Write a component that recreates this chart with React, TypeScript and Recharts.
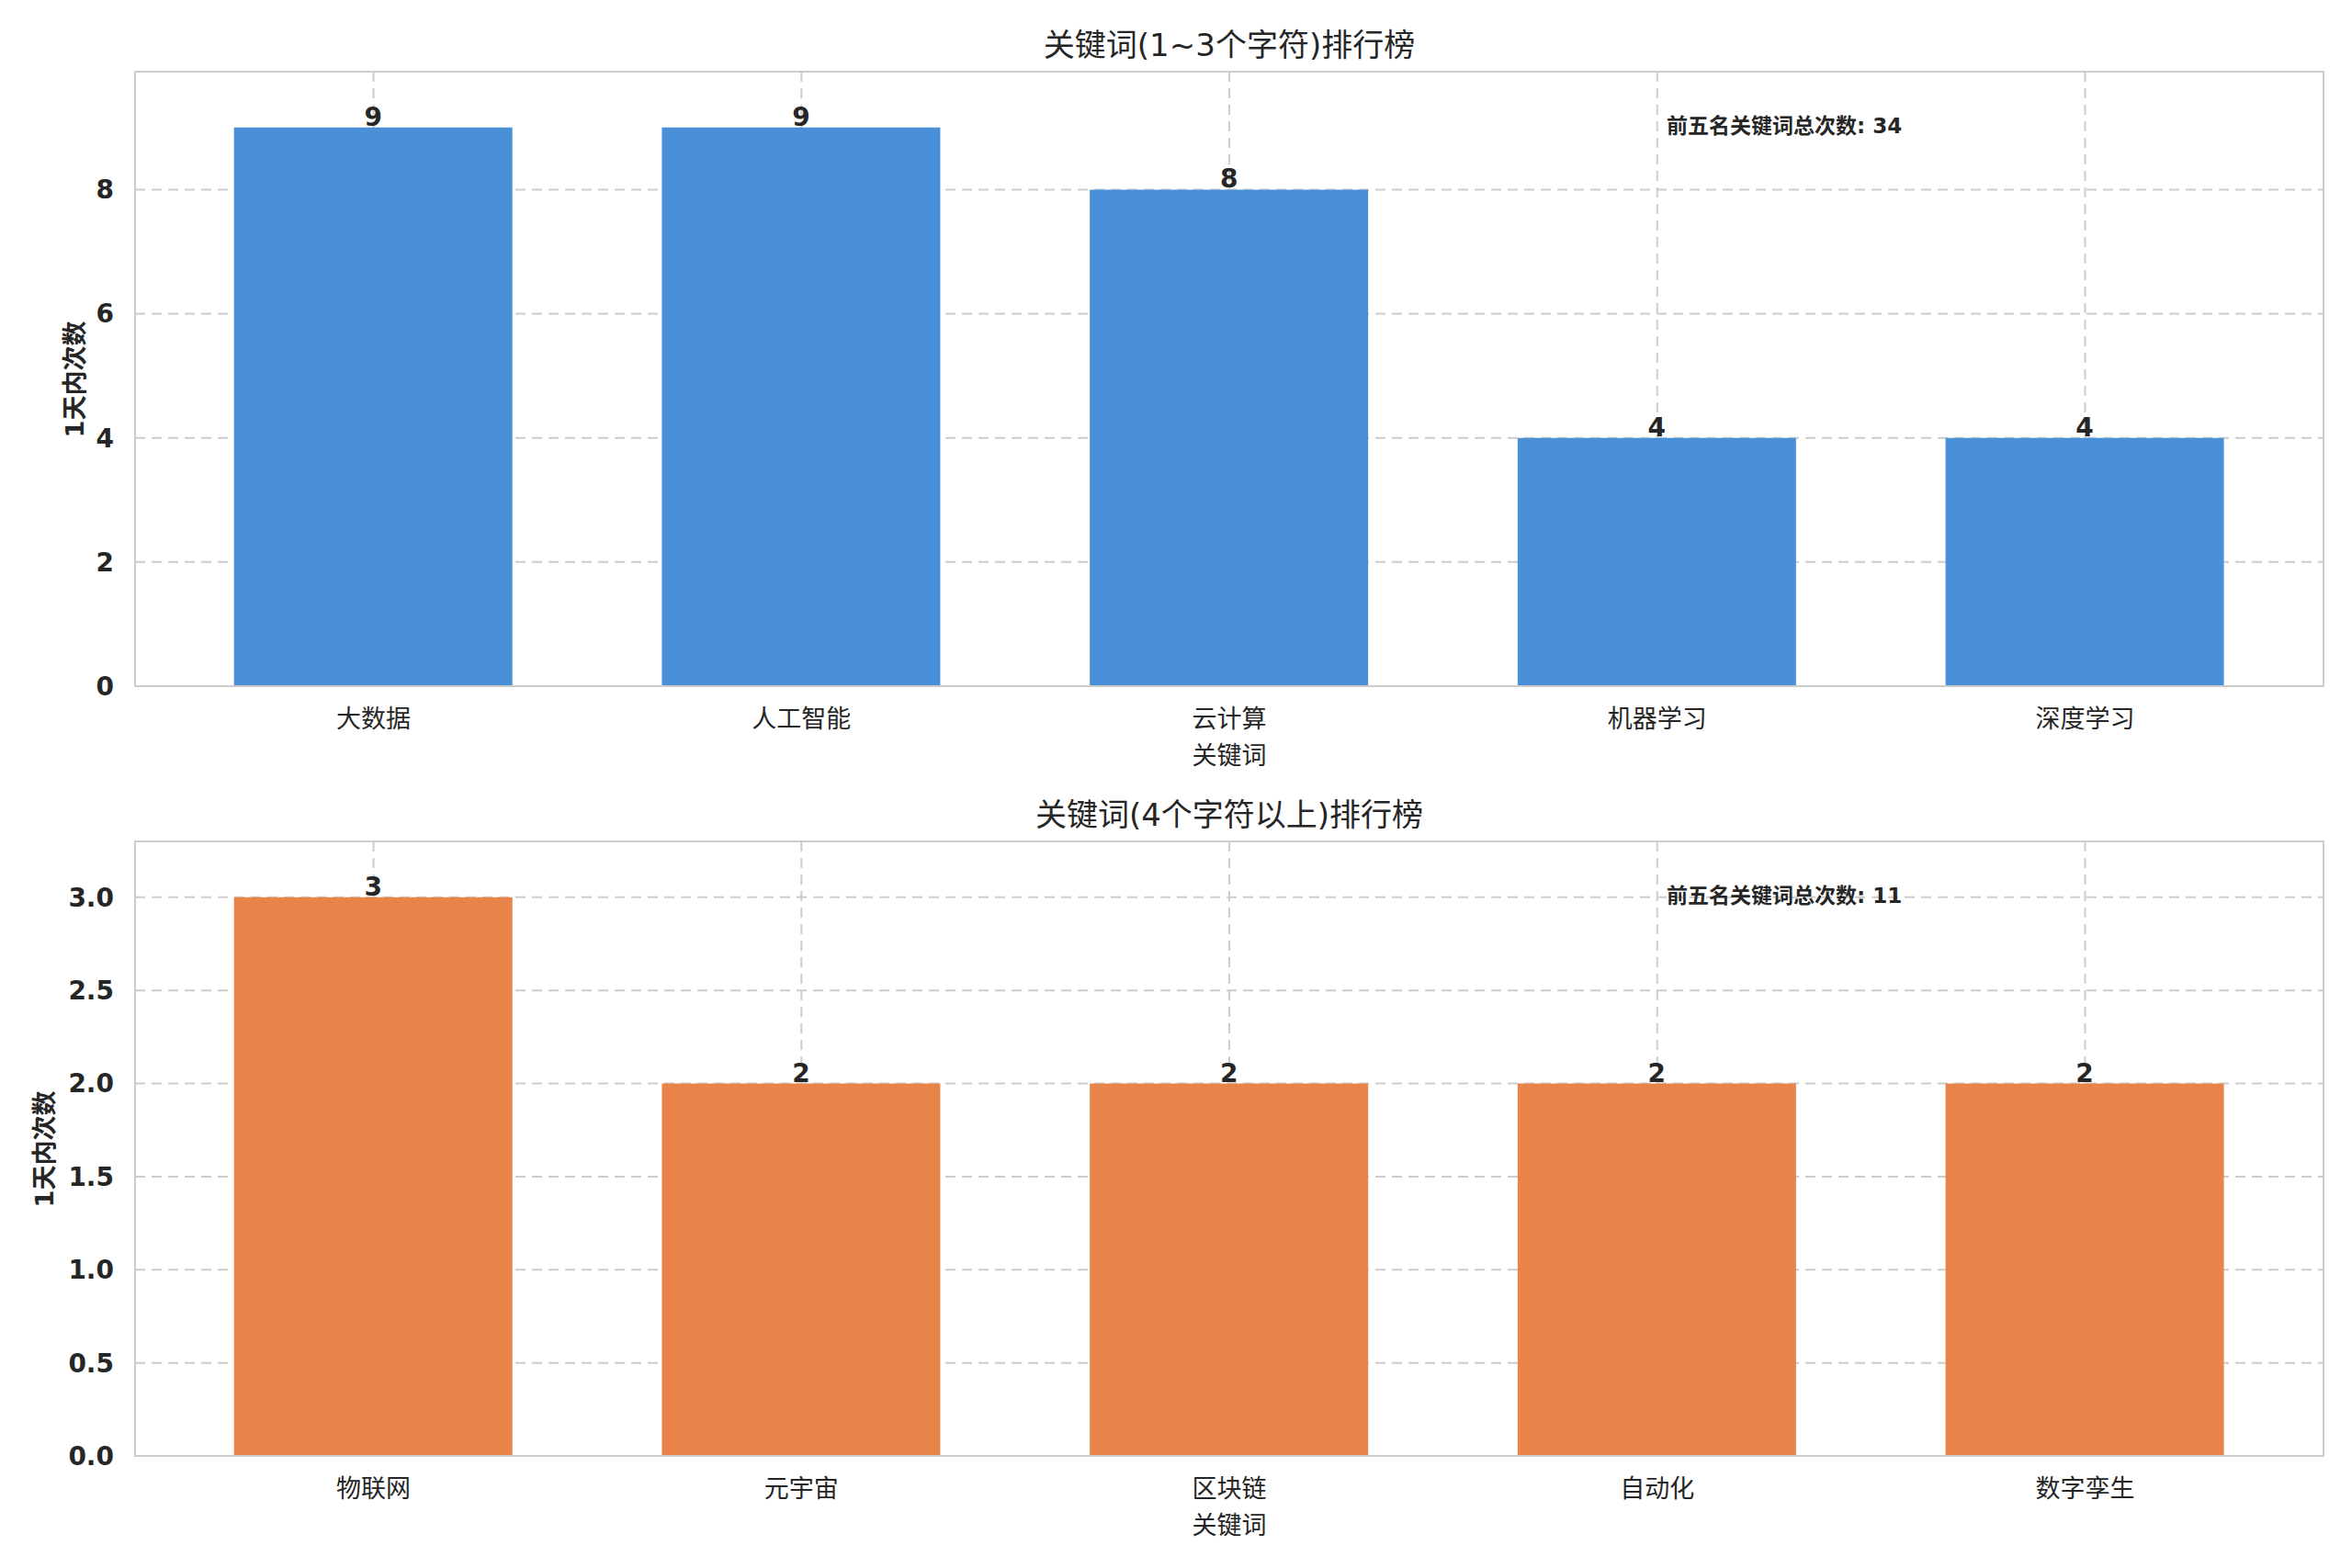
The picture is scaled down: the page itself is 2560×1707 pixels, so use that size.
import React from "react";
import { BarChart, Bar, XAxis, YAxis, CartesianGrid, LabelList } from "recharts";

const FONT = "'DejaVu Sans', 'Noto Sans CJK SC', sans-serif";
const INK = "#262626";

// top panel: short keywords
const shortWords = ["大数据", "人工智能", "云计算", "机器学习", "深度学习"];
const shortCounts = [9, 9, 8, 4, 4];
const shortTicks = [0, 2, 4, 6, 8];

// bottom panel: long keywords
const longWords = ["物联网", "元宇宙", "区块链", "自动化", "数字孪生"];
const longCounts = [3, 2, 2, 2, 2];
const longTicks = [0, 0.5, 1, 1.5, 2, 2.5, 3];

const titles = ["关键词(1~3个字符)排行榜", "关键词(4个字符以上)排行榜"];
const xLabel = "关键词";
const yLabel = "1天内次数";
const totalLabel = "前五名关键词总次数";

const PLOT_LEFT = 147;
const PLOT_WIDTH = 2382;
const PLOT_HEIGHT = 669;

interface PanelProps {
  top: number;
  height: number;
  marginTop: number;
  marginBottom: number;
  words: string[];
  counts: number[];
  ticks: number[];
  decimals: number;
  color: string;
  title: string;
  yLabelX: number;
}

function Panel({ top, height, marginTop, marginBottom, words, counts, ticks, decimals, color, title, yLabelX }: PanelProps) {
  const data = words.map((w, i) => ({ name: w, value: counts[i] }));
  const total = counts.reduce((a, b) => a + b, 0);
  const yMax = Math.max(...counts) * 1.1;
  const plotBottom = marginTop + PLOT_HEIGHT;

  return (
    <div style={{ position: "absolute", left: 0, top, width: 2560, height }}>
      <BarChart
        width={2560}
        height={height}
        data={data}
        margin={{ top: marginTop, right: 31, bottom: marginBottom, left: PLOT_LEFT - 100 }}
      >
        <CartesianGrid stroke="#cccccc" strokeWidth={2} strokeDasharray="11 7" />
        <XAxis
          dataKey="name"
          interval={0}
          padding={{ left: 26.7, right: 26.7 }}
          height={60}
          axisLine={false}
          tickLine={false}
          tickSize={0}
          tickMargin={26}
          tick={{ fontSize: 27, fill: INK, fontFamily: FONT }}
        />
        <YAxis
          type="number"
          domain={[0, yMax]}
          ticks={ticks}
          tickFormatter={(v: number) => v.toFixed(decimals)}
          width={100}
          axisLine={false}
          tickLine={false}
          tickSize={0}
          tickMargin={23}
          tick={{ fontSize: 28, fontWeight: 700, fill: INK, fontFamily: FONT }}
        />
        <Bar dataKey="value" fill={color} barSize={303} isAnimationActive={false}>
          <LabelList
            dataKey="value"
            position="top"
            offset={2}
            style={{ fontSize: 28, fontWeight: 700, fill: INK, fontFamily: FONT }}
          />
        </Bar>
      </BarChart>

      {/* axes frame */}
      <div
        style={{
          position: "absolute",
          left: PLOT_LEFT - 1,
          top: marginTop - 1,
          width: PLOT_WIDTH + 2,
          height: PLOT_HEIGHT + 2,
          border: "2px solid #cccccc",
          boxSizing: "border-box",
          pointerEvents: "none",
        }}
      />

      <div
        style={{
          position: "absolute",
          left: PLOT_LEFT,
          width: PLOT_WIDTH,
          top: marginTop - 29,
          transform: "translateY(-50%)",
          textAlign: "center",
          fontSize: 34,
          color: INK,
          fontFamily: FONT,
          lineHeight: 1,
          whiteSpace: "nowrap",
        }}
      >
        {title}
      </div>

      <div
        style={{
          position: "absolute",
          left: PLOT_LEFT,
          width: PLOT_WIDTH,
          top: plotBottom + 75,
          transform: "translateY(-50%)",
          textAlign: "center",
          fontSize: 27,
          color: INK,
          fontFamily: FONT,
          lineHeight: 1,
        }}
      >
        {xLabel}
      </div>

      <div
        style={{
          position: "absolute",
          left: yLabelX,
          top: marginTop + PLOT_HEIGHT / 2,
          transform: "translate(-50%, -50%) rotate(-90deg)",
          fontSize: 27,
          fontWeight: 700,
          color: INK,
          fontFamily: FONT,
          lineHeight: 1,
          whiteSpace: "nowrap",
        }}
      >
        {yLabel}
      </div>

      <div
        style={{
          position: "absolute",
          left: 1814,
          top: marginTop + 59,
          transform: "translateY(-50%)",
          fontSize: 23,
          fontWeight: 700,
          color: INK,
          fontFamily: FONT,
          lineHeight: 1,
          whiteSpace: "nowrap",
        }}
      >
        {totalLabel}: {total}
      </div>
    </div>
  );
}

export default function App() {
  return (
    <div style={{ position: "absolute", left: 0, top: 0, width: 2560, height: 1707, background: "#ffffff" }}>
      <Panel
        top={0}
        height={853}
        marginTop={78}
        marginBottom={46}
        words={shortWords}
        counts={shortCounts}
        ticks={shortTicks}
        decimals={0}
        color="#4a90d9"
        title={titles[0]}
        yLabelX={81}
      />
      <Panel
        top={853}
        height={854}
        marginTop={63}
        marginBottom={62}
        words={longWords}
        counts={longCounts}
        ticks={longTicks}
        decimals={1}
        color="#e8844a"
        title={titles[1]}
        yLabelX={48}
      />
    </div>
  );
}
